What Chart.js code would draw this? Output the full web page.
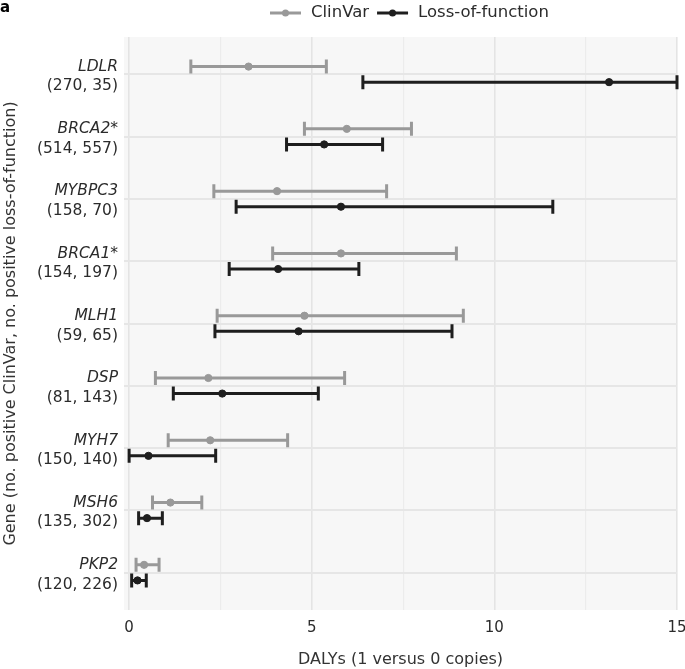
<!DOCTYPE html>
<html>
<head>
<meta charset="utf-8">
<script src="https://cdn.jsdelivr.net/npm/chart.js@4.4.1/dist/chart.umd.min.js"></script>
<style>
html,body{margin:0;padding:0;background:#fff;}
#wrap{width:685px;height:669px;position:relative;}
</style>
</head>
<body>
<div id="wrap"><canvas id="c"></canvas></div>
<script>
const genes = ["LDLR","BRCA2*","MYBPC3","BRCA1*","MLH1","DSP","MYH7","MSH6","PKP2"];
const counts = ["(270, 35)","(514, 557)","(158, 70)","(154, 197)","(59, 65)","(81, 143)","(150, 140)","(135, 302)","(120, 226)"];
const clinvarMid  = [3.27, 5.96, 4.05, 5.80, 4.80, 2.17, 2.22, 1.13, 0.41];
const clinvarLow  = [1.69, 4.80, 2.32, 3.93, 2.41, 0.72, 1.07, 0.64, 0.19];
const clinvarHigh = [5.40, 7.73, 7.05, 8.96, 9.15, 5.90, 4.34, 1.99, 0.82];
const lofMid  = [13.14, 5.34, 5.80, 4.08, 4.64, 2.55, 0.53, 0.49, 0.23];
const lofLow  = [6.40, 4.31, 2.93, 2.74, 2.35, 1.21, 0.00, 0.26, 0.07];
const lofHigh = [15.00, 6.94, 11.60, 6.29, 8.84, 5.18, 2.37, 0.91, 0.47];
const xTicks = [0, 5, 10, 15];

const OFF = 0.125;
const FONT = "'DejaVu Sans', sans-serif";
const CLIN = "#999999";
const LOF = "#1e1e1e";

const panelPlugin = {
  id: 'panel',
  beforeDraw(chart) {
    const {ctx, chartArea: a} = chart;
    ctx.save();
    ctx.fillStyle = '#f7f7f7';
    ctx.fillRect(a.left, a.top, a.right - a.left, a.bottom - a.top);
    ctx.restore();
  }
};

const errPlugin = {
  id: 'errbars',
  beforeDatasetsDraw(chart) {
    const {ctx, scales: {x, y}} = chart;
    const draw = (lo, hi, off, color) => {
      ctx.strokeStyle = color;
      ctx.lineWidth = 3;
      ctx.lineCap = 'butt';
      for (let i = 0; i < genes.length; i++) {
        const py = y.getPixelForValue(i + off);
        const x0 = x.getPixelForValue(lo[i]);
        const x1 = x.getPixelForValue(hi[i]);
        ctx.beginPath();
        ctx.moveTo(x0, py); ctx.lineTo(x1, py);
        ctx.moveTo(x0, py - 7); ctx.lineTo(x0, py + 7);
        ctx.moveTo(x1, py - 7); ctx.lineTo(x1, py + 7);
        ctx.stroke();
      }
    };
    ctx.save();
    ctx.beginPath();
    const a = chart.chartArea;
    ctx.rect(a.left, a.top, a.right - a.left + 2, a.bottom - a.top);
    ctx.clip();
    draw(clinvarLow, clinvarHigh, -OFF, CLIN);
    draw(lofLow, lofHigh, OFF, LOF);
    ctx.restore();
  }
};

const textPlugin = {
  id: 'texts',
  afterDraw(chart) {
    const {ctx, scales: {x, y}, chartArea: a} = chart;
    ctx.save();
    ctx.fillStyle = '#2b2b2b';
    ctx.textAlign = 'right';
    ctx.textBaseline = 'middle';
    for (let i = 0; i < genes.length; i++) {
      const py = y.getPixelForValue(i);
      ctx.font = "italic 15.5px " + FONT;
      ctx.fillText(genes[i], 118, py - 7.5);
      ctx.font = "15.5px " + FONT;
      ctx.fillText(counts[i], 118, py + 12);
    }
    // x title
    ctx.textAlign = 'center';
    ctx.fillStyle = '#333333';
    ctx.font = "16px " + FONT;
    ctx.fillText("DALYs (1 versus 0 copies)", (a.left + a.right) / 2, 660);
    // y title
    ctx.save();
    ctx.translate(11, (a.top + a.bottom) / 2);
    ctx.rotate(-Math.PI / 2);
    ctx.font = "16px " + FONT;
    ctx.fillText("Gene (no. positive ClinVar, no. positive loss-of-function)", 0, 0);
    ctx.restore();
    // panel letter
    ctx.textAlign = 'left';
    ctx.textBaseline = 'alphabetic';
    ctx.fillStyle = '#000';
    ctx.font = "bold 15px " + FONT;
    ctx.fillText("a", 0, 12);
    // legend
    ctx.font = "16.5px " + FONT;
    ctx.textBaseline = 'middle';
    const ly = 13;
    const items = [["ClinVar", CLIN], ["Loss-of-function", LOF]];
    let lx = 270;
    items.forEach(([t, c]) => {
      ctx.strokeStyle = c; ctx.lineWidth = 3;
      ctx.beginPath(); ctx.moveTo(lx, ly); ctx.lineTo(lx + 31, ly); ctx.stroke();
      ctx.fillStyle = c;
      ctx.beginPath(); ctx.arc(lx + 15.5, ly, 3.5, 0, Math.PI * 2); ctx.fill();
      ctx.fillStyle = '#2b2b2b';
      ctx.fillText(t, lx + 41, ly);
      lx += 41 + ctx.measureText(t).width + 8;
    });
    ctx.restore();
  }
};

const ptsClin = genes.map((g, i) => ({x: clinvarMid[i], y: i - OFF}));
const ptsLof = genes.map((g, i) => ({x: lofMid[i], y: i + OFF}));

new Chart(document.getElementById('c'), {
  type: 'scatter',
  data: {
    datasets: [
      {label: 'ClinVar', data: ptsClin, backgroundColor: CLIN, borderColor: CLIN, pointRadius: 3.6, pointHoverRadius: 3.6},
      {label: 'Loss-of-function', data: ptsLof, backgroundColor: LOF, borderColor: LOF, pointRadius: 3.6, pointHoverRadius: 3.6}
    ]
  },
  options: {
    responsive: true,
    maintainAspectRatio: false,
    animation: false,
    devicePixelRatio: 1,
    layout: {padding: {top: 37, right: 8, left: 0, bottom: 0}},
    plugins: {legend: {display: false}, tooltip: {enabled: false}},
    scales: {
      x: {
        type: 'linear', min: -0.14, max: 15,
        afterBuildTicks(scale) {
          scale.ticks = [0, 2.5, 5, 7.5, 10, 12.5, 15].map(v => ({value: v}));
        },
        afterFit(scale) { scale.height = 59; scale.paddingRight = 0; scale.paddingLeft = 0; },
        border: {display: false},
        grid: {
          drawTicks: false,
          color: ctx => (xTicks.includes(ctx.tick.value) ? '#e4e4e4' : '#ececec'),
          lineWidth: ctx => (xTicks.includes(ctx.tick.value) ? 1.6 : 1.1)
        },
        ticks: {
          autoSkip: false, maxRotation: 0, padding: 9,
          color: '#2b2b2b',
          font: {family: FONT, size: 15},
          callback: v => (xTicks.includes(v) ? String(v) : '')
        }
      },
      y: {
        type: 'linear', min: -0.6, max: 8.6, reverse: true,
        afterBuildTicks(scale) {
          scale.ticks = genes.map((g, i) => ({value: i}));
        },
        afterFit(scale) { scale.width = 124; scale.paddingTop = 0; scale.paddingBottom = 0; },
        border: {display: false},
        grid: {drawTicks: false, color: '#e6e6e6', lineWidth: 2},
        ticks: {display: false}
      }
    }
  },
  plugins: [panelPlugin, errPlugin, textPlugin]
});
</script>
</body>
</html>
